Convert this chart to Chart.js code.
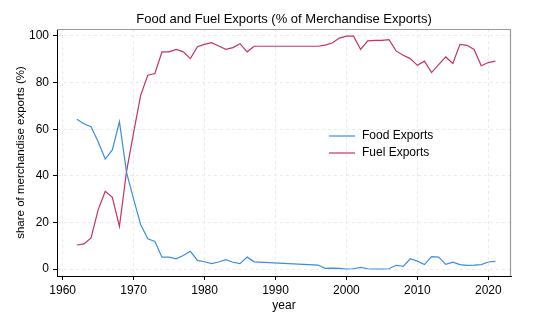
<!DOCTYPE html>
<html>
<head>
<meta charset="utf-8">
<script src="https://cdn.jsdelivr.net/npm/chart.js@4/dist/chart.umd.min.js"></script>
<style>
  html, body { margin: 0; padding: 0; background: #fff; }
  #wrap { width: 540px; height: 324px; }
</style>
</head>
<body>
<div id="wrap"><canvas id="chart" width="540" height="324"></canvas></div>
<script>
// data (years with no value are simply absent)
const foodYears = [1962, 1963, 1964, 1965, 1966, 1967, 1968, 1969, 1970, 1971, 1972, 1973, 1974, 1975, 1976, 1977, 1978, 1979, 1980, 1981, 1982, 1983, 1984, 1985, 1986, 1987, 1996, 1997, 1998, 1999, 2000, 2001, 2002, 2003, 2004, 2005, 2006, 2007, 2008, 2009, 2010, 2011, 2012, 2013, 2014, 2015, 2016, 2017, 2018, 2019, 2020, 2021];
const foodValues = [64.3, 62.3, 61.1, 54.6, 47.2, 51.1, 63.2, 41.5, 30, 19, 13, 11.8, 5.1, 5.1, 4.4, 5.8, 7.6, 3.7, 3.1, 2.3, 3.0, 4.0, 2.9, 2.3, 5.1, 3.1, 1.7, 0.3, 0.4, 0.3, 0, 0.1, 0.7, 0.1, 0, 0, 0.1, 1.6, 1.1, 4.4, 3.4, 1.9, 5.3, 5.1, 2.0, 2.9, 1.9, 1.6, 1.7, 1.9, 3.0, 3.3];
const fuelYears = foodYears;
const fuelValues = [10.3, 10.8, 13.3, 25.4, 33.4, 30.8, 18.3, 41.8, 58.5, 74.6, 83.2, 83.9, 93.2, 93.2, 94.2, 93.2, 90.3, 95.4, 96.4, 97.1, 95.7, 94.3, 95, 96.7, 93.2, 95.6, 95.6, 96.1, 97, 99.1, 99.9, 99.9, 94.2, 97.9, 98.1, 98.1, 98.4, 93.6, 91.7, 90.3, 87.4, 89.2, 84.3, 87.7, 91, 88.2, 96.4, 96, 94.2, 87.2, 88.6, 89.2];
const seriesNames = ["Food Exports", "Fuel Exports"];
const xTicks = [1960, 1970, 1980, 1990, 2000, 2010, 2020];
const yTicks = [0, 20, 40, 60, 80, 100];

const FONT = "'Liberation Sans', Arial, Helvetica, sans-serif";
const colors = ["#3c8ce6", "#c8325f"];

function toPoints(xs, ys) {
    return xs.map((x, i) => ({ x: x, y: ys[i] }));
}

// title, frame and legend drawn over the plot
const decor = {
    id: "decor",
    afterDraw(chart) {
        const ctx = chart.ctx;
        const a = chart.chartArea;
        ctx.save();
        // gray frame on top and right
        ctx.strokeStyle = "#9a9a9a";
        ctx.lineWidth = 1.2;
        ctx.beginPath();
        ctx.moveTo(a.left, a.top + 0.5);
        ctx.lineTo(a.right - 0.5, a.top + 0.5);
        ctx.lineTo(a.right - 0.5, a.bottom);
        ctx.stroke();

        // title
        ctx.fillStyle = "#000";
        ctx.font = "13px " + FONT;
        ctx.textAlign = "center";
        ctx.textBaseline = "middle";
        ctx.fillText("Food and Fuel Exports (% of Merchandise Exports)", (a.left + a.right) / 2, 19);

        // legend
        ctx.font = "12px " + FONT;
        ctx.textAlign = "left";
        chart.data.datasets.forEach((ds, i) => {
            const y = a.top + 107 + i * 17;
            const x = a.left + 272;
            ctx.strokeStyle = ds.borderColor;
            ctx.lineWidth = 1.2;
            ctx.beginPath();
            ctx.moveTo(x, y);
            ctx.lineTo(x + 26, y);
            ctx.stroke();
            ctx.fillStyle = "#000";
            ctx.fillText(ds.label, x + 33, y);
        });
        ctx.restore();
    }
};

const ctx = document.getElementById("chart").getContext("2d");
new Chart(ctx, {
    type: "line",
    data: {
        datasets: [
            { label: seriesNames[0], data: toPoints(foodYears, foodValues), borderColor: colors[0] },
            { label: seriesNames[1], data: toPoints(fuelYears, fuelValues), borderColor: colors[1] }
        ]
    },
    options: {
        responsive: false,
        animation: false,
        events: [],
        layout: { padding: { top: 29, right: 29, left: 0, bottom: 0 } },
        elements: {
            line: { borderWidth: 1.2, tension: 0, fill: false },
            point: { radius: 0 }
        },
        plugins: {
            legend: { display: false },
            title: { display: false },
            tooltip: { enabled: false }
        },
        scales: {
            x: {
                type: "linear",
                min: 1959.2,
                max: 2023.2,
                afterBuildTicks: (s) => { s.ticks = xTicks.map((v) => ({ value: v })); },
                afterFit: (s) => { s.height = 48; },
                ticks: {
                    color: "#000",
                    font: { family: FONT, size: 12 },
                    padding: 3,
                    maxRotation: 0,
                    callback: (v) => String(v)
                },
                grid: {
                    color: "#eaeaea",
                    tickColor: "#000",
                    tickLength: 4,
                    tickBorderDash: [],
                    lineWidth: 1
                },
                border: { display: true, color: "#000", width: 1, dash: [3, 3] },
                title: {
                    display: true,
                    text: "year",
                    color: "#000",
                    font: { family: FONT, size: 12 },
                    padding: { top: 0, bottom: 11 }
                }
            },
            y: {
                min: -3,
                max: 103,
                afterBuildTicks: (s) => { s.ticks = yTicks.map((v) => ({ value: v })); },
                afterFit: (s) => { s.width = 57; },
                ticks: {
                    color: "#000",
                    font: { family: FONT, size: 12 },
                    padding: 4
                },
                grid: {
                    color: "#eaeaea",
                    tickColor: "#000",
                    tickLength: 4,
                    tickBorderDash: [],
                    lineWidth: 1
                },
                border: { display: true, color: "#000", width: 1, dash: [3, 3] },
                title: {
                    display: true,
                    text: "share of merchandise exports (%)",
                    color: "#000",
                    font: { family: FONT, size: 11.5 },
                    padding: { top: 14, bottom: 0 }
                }
            }
        }
    },
    plugins: [decor]
});
</script>
</body>
</html>
